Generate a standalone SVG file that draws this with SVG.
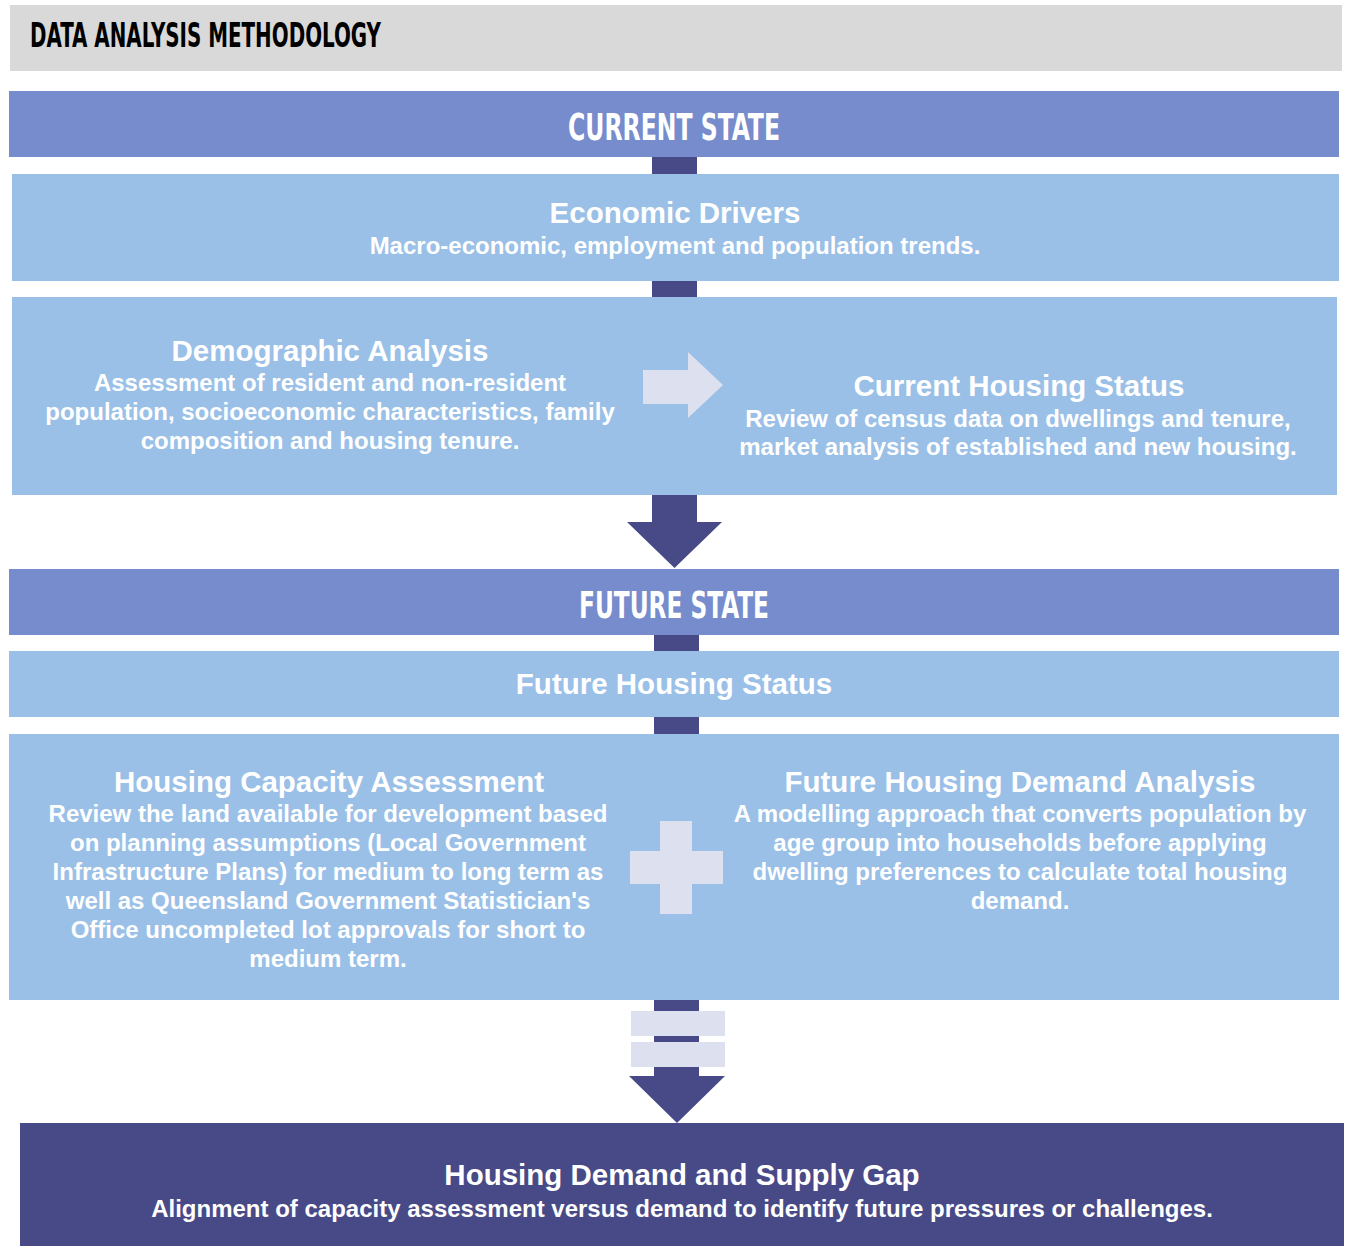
<svg xmlns="http://www.w3.org/2000/svg" width="1346" height="1246" viewBox="0 0 1346 1246">
<style>
.hd{font-family:"DejaVu Sans Condensed","DejaVu Sans",sans-serif;font-weight:bold;fill:#fff;text-anchor:middle}
.t{font-family:"Liberation Sans",Arial,sans-serif;font-weight:bold;fill:#fff;text-anchor:middle;font-size:29.5px}
.b{font-family:"Liberation Sans",Arial,sans-serif;font-weight:bold;fill:#fff;text-anchor:middle;font-size:24px}
.band{fill:#778ccc}
.lt{fill:#9ac0e7}
.dk{fill:#474a87}
.pale{fill:#dde0ee}
</style>
<rect x="0" y="0" width="1346" height="1246" fill="#fff"/>
<g id="title">
<rect x="10" y="5" width="1332" height="66" fill="#d9d9d9"/>
<text x="30" y="47" font-family="'DejaVu Sans Condensed','DejaVu Sans',sans-serif" font-weight="bold" font-size="33" fill="#000" textLength="351" lengthAdjust="spacingAndGlyphs">DATA ANALYSIS METHODOLOGY</text>
</g>
<g id="connectors">
<rect class="dk" x="652" y="155" width="45" height="21"/>
<rect class="dk" x="652" y="279" width="45" height="20"/>
<path class="dk" d="M652 493H697V522H722L674.5 568L627 522H652Z"/>
<rect class="dk" x="654" y="633" width="45" height="20"/>
<rect class="dk" x="654" y="715" width="45" height="21"/>
<path class="dk" d="M654 998H699V1076H725L677 1123L629 1076H654Z"/>
<rect class="pale" x="631" y="1011" width="94" height="25"/>
<rect class="pale" x="631" y="1042" width="94" height="25"/>
</g>
<g id="current-state">
<rect class="band" x="9" y="91" width="1330" height="66"/>
<text class="hd" x="674" y="140" font-size="37" textLength="212" lengthAdjust="spacingAndGlyphs">CURRENT STATE</text>
</g>
<g id="economic-drivers">
<rect class="lt" x="12" y="174" width="1327" height="107"/>
<text class="t" x="675" y="223">Economic Drivers</text>
<text class="b" x="675" y="254">Macro-economic, employment and population trends.</text>
</g>
<g id="current-analysis">
<rect class="lt" x="12" y="297" width="1325" height="198"/>
</g>
<g id="demographic-analysis">
<text class="t" x="330" y="361">Demographic Analysis</text>
<text class="b" x="330" y="391">Assessment of resident and non-resident</text>
<text class="b" x="330" y="420">population, socioeconomic characteristics, family</text>
<text class="b" x="330" y="449">composition and housing tenure.</text>
</g>
<g id="arrow-right">
<path class="pale" d="M643 370H688V352L723 385L688 418V404H643Z"/>
</g>
<g id="current-housing-status">
<text class="t" x="1019" y="396">Current Housing Status</text>
<text class="b" x="1018" y="427">Review of census data on dwellings and tenure,</text>
<text class="b" x="1018" y="455">market analysis of established and new housing.</text>
</g>
<g id="future-state">
<rect class="band" x="9" y="569" width="1330" height="66"/>
<text class="hd" x="674" y="618" font-size="37" textLength="190" lengthAdjust="spacingAndGlyphs">FUTURE STATE</text>
</g>
<g id="future-housing-status">
<rect class="lt" x="9" y="651" width="1330" height="66"/>
<text class="t" x="674" y="694">Future Housing Status</text>
</g>
<g id="future-analysis">
<rect class="lt" x="9" y="734" width="1330" height="266"/>
</g>
<g id="housing-capacity">
<text class="t" x="329" y="792">Housing Capacity Assessment</text>
<text class="b" x="328" y="822">Review the land available for development based</text>
<text class="b" x="328" y="851">on planning assumptions (Local Government</text>
<text class="b" x="328" y="880">Infrastructure Plans) for medium to long term as</text>
<text class="b" x="328" y="909">well as Queensland Government Statistician's</text>
<text class="b" x="328" y="938">Office uncompleted lot approvals for short to</text>
<text class="b" x="328" y="967">medium term.</text>
</g>
<g id="plus">
<path class="pale" d="M660 821H692V851H723V884H692V914H660V884H630V851H660Z"/>
</g>
<g id="future-demand">
<text class="t" x="1020" y="792">Future Housing Demand Analysis</text>
<text class="b" x="1020" y="822">A modelling approach that converts population by</text>
<text class="b" x="1020" y="851">age group into households before applying</text>
<text class="b" x="1020" y="880">dwelling preferences to calculate total housing</text>
<text class="b" x="1020" y="909">demand.</text>
</g>
<g id="gap">
<rect class="dk" x="20" y="1123" width="1324" height="123"/>
<text class="t" x="682" y="1185">Housing Demand and Supply Gap</text>
<text class="b" x="682" y="1217">Alignment of capacity assessment versus demand to identify future pressures or challenges.</text>
</g>
</svg>
